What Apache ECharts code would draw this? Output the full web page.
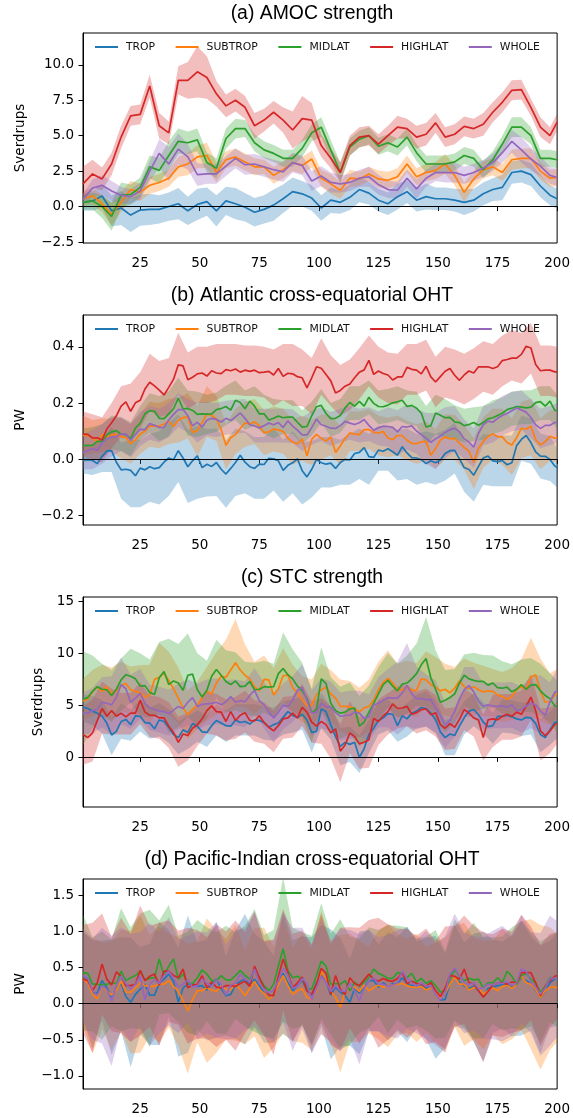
<!DOCTYPE html>
<html><head><meta charset="utf-8">
<script src="https://cdn.jsdelivr.net/npm/echarts@6/dist/echarts.min.js"></script>
<style>html,body{margin:0;padding:0;background:#fff}#c{width:573px;height:1118px}</style>
</head><body><div id="c"></div>
<script>
const years = [1,5,9,13,17,21,25,29,33,37,41,45,49,53,57,61,65,69,73,77,81,85,89,93,97,101,105,109,113,117,121,125,129,133,137,141,145,149,153,157,161,165,169,173,177,181,185,189,193,197,200];
const yearsFine = Array.from({ length: 100 }, (_, i) => 1 + 2 * i).concat([200]);
const seriesNames = ['TROP','SUBTROP','MIDLAT','HIGHLAT','WHOLE'];
const lineColors = ['#1f77b4','#ff7f0e','#2ca02c','#d62728','#9467bd'];
const bandColors = ['rgba(31,119,180,0.3)','rgba(255,127,14,0.3)','rgba(44,160,44,0.3)','rgba(214,39,40,0.3)','rgba(148,103,189,0.3)'];
const panelTitles = ['(a) AMOC strength','(b) Atlantic cross-equatorial OHT','(c) STC strength','(d) Pacific-Indian cross-equatorial OHT'];
const yNames = ['Sverdrups','PW','Sverdrups','PW'];
const yTicks = [[-2.5,0,2.5,5,7.5,10],[-0.2,0,0.2,0.4],[0,5,10,15],[-1,-0.5,0,0.5,1,1.5]];
const yDecimals = [1,1,0,1];
const yRanges = [[-2.57,12.24],[-0.233,0.513],[-4.77,15.42],[-1.18,1.726]];
const xTicks = [25,50,75,100,125,150,175,200];

// (a) AMOC strength, Sverdrups: mean and half-width of spread (4-year steps)
const aTrop  = [0.3,0.4,0.75,-0.3,-0.1,-0.6,-0.25,-0.2,-0.2,0.0,0.2,-0.3,0.15,0.35,-0.3,0.4,0.2,-0.05,-0.4,-0.2,0.1,0.55,1.05,0.9,0.6, -0.1,0.45,0.3,0.65,1.2,0.95,0.45,0.2,0.7,1.05,0.45,0.7,0.55,0.55,0.45,0.3,0.45,0.9,1.2,1.35,2.4,2.5,2.25,1.45,0.8,0.55];
const aSub   = [0.55,0.75,0.2,-0.55,0.3,1.2,1.0,1.5,1.7,2.0,2.8,3.0,3.5,3.6,2.4,3.3,3.5,3.15,2.8,2.8,2.2,2.6,3.1,2.9,3.35, 2.0,1.6,1.15,2.0,1.95,2.3,1.95,1.85,2.1,3.0,2.1,2.4,2.55,3.0,2.2,1.0,1.95,2.6,2.8,2.4,3.3,3.4,3.4,2.5,2.0,2.05];
const aMid   = [0.3,0.4,0.0,-0.7,0.8,0.85,1.35,2.8,2.55,3.6,4.6,4.5,4.7,3.1,2.7,4.8,5.5,5.5,4.5,4.0,3.75,3.4,3.4,4.1,5.2, 5.6,4.0,2.4,4.2,4.75,5.0,4.25,4.5,4.2,4.9,3.8,3.0,3.0,3.0,3.15,3.6,3.4,2.6,3.3,4.4,5.6,5.6,5.0,3.4,3.4,3.3];
const aHigh  = [1.6,2.3,1.95,3.0,4.9,6.4,6.5,8.5,5.7,5.2,8.9,8.9,9.5,9.1,7.95,7.1,7.5,7.0,5.7,6.1,6.65,6.1,5.4,6.2,6.1, 4.3,3.4,2.4,4.3,4.9,5.0,4.4,5.0,5.6,5.5,4.9,5.1,5.9,4.9,5.1,5.65,5.5,5.8,6.65,7.35,8.2,8.25,7.0,5.6,5.0,5.95];
const aWhole = [0.5,1.3,1.5,1.1,0.8,0.7,1.1,2.5,3.75,3.0,4.05,3.5,2.25,2.3,2.3,2.85,3.4,2.95,3.0,2.8,2.6,2.45,3.1,2.9,1.8, 2.15,1.7,1.6,1.7,2.0,2.1,1.55,1.2,1.15,2.0,1.25,2.0,2.4,2.4,2.4,2.2,2.4,2.7,3.1,3.8,4.6,4.0,3.35,2.85,2.2,2.05];
const aTropS  = [0.6,0.7,0.8,1.1,1.2,1.2,1.1,1.1,1.0,1.0,1.1,1.0,1.1,1.0,1.1,1.0,1.1,1.0,1.0,1.0,1.1,1.0,1.0,0.9,0.9, 0.9,0.9,0.8,0.9,0.9,0.8,0.8,0.8,0.9,0.8,0.8,0.9,0.8,0.8,0.8,0.9,0.8,0.8,0.8,0.9,0.8,0.8,0.8,0.8,0.7,0.7];
const aSubS   = [0.5,0.6,0.6,0.8,0.7,0.6,0.6,0.6,0.6,0.6,0.7,0.8,0.8,0.9,0.7,0.6,0.6,0.6,0.6,0.5,0.6,0.6,0.6,0.6,0.6, 0.6,0.7,0.6,0.6,0.5,0.5,0.6,0.6,0.6,0.6,0.6,0.6,0.6,0.7,0.7,0.7,0.6,0.6,0.6,0.6,0.7,0.7,0.7,0.6,0.6,0.6];
const aMidS   = [0.5,0.6,0.8,1.0,0.9,0.7,0.7,0.8,0.9,1.0,0.9,0.8,0.8,0.7,0.7,0.7,0.7,0.6,0.6,0.6,0.6,0.6,0.6,0.6,0.6, 0.7,0.7,0.7,0.6,0.6,0.6,0.6,0.6,0.6,0.6,0.6,0.6,0.6,0.6,0.6,0.6,0.6,0.6,0.6,0.6,0.7,0.7,0.6,0.6,0.6,0.6];
const aHighS  = [1.2,1.0,0.8,0.8,0.8,0.7,0.7,0.8,0.9,0.8,1.0,1.3,1.8,1.5,0.9,0.8,0.8,0.8,0.9,0.8,0.8,0.9,1.3,1.6,1.2, 0.8,0.7,0.7,0.7,0.7,0.7,0.7,0.7,0.8,0.7,0.8,0.8,0.7,0.7,0.7,0.7,0.7,0.8,0.7,0.7,0.7,0.7,0.6,0.7,0.6,0.6];
const aWholeS = [0.4,0.6,0.7,0.7,0.6,0.5,0.6,0.7,1.0,1.2,1.1,0.9,0.8,0.7,0.7,0.7,0.7,0.7,0.7,0.7,0.7,0.7,0.7,0.7,0.7, 0.7,0.7,0.6,0.6,0.6,0.7,0.7,0.6,0.6,0.6,0.7,0.6,0.6,0.7,0.7,0.6,0.6,0.6,0.6,0.7,0.8,0.9,0.8,0.7,0.6,0.6];

// (b) Atlantic cross-equatorial OHT, PW: band centres and half-widths (4-year steps)
const bTrop  = [0.0,-0.005,0.015,0.035,-0.04,-0.05,-0.05,-0.03,-0.03,0.0,0.04,-0.025,-0.01,-0.012,-0.01,-0.052,-0.01,-0.01,-0.03,-0.03,0.0,-0.04,-0.01,-0.05,-0.035, -0.01,-0.01,-0.01,0.0,0.02,0.0,0.04,0.04,0.015,0.02,0.0,0.01,0.0,0.015,0.04,-0.025,-0.05,0.0,-0.005,-0.005,-0.005,0.075,0.065,0.012,0.003,-0.03];
const bSub   = [0.085,0.08,0.085,0.085,0.075,0.055,0.09,0.125,0.12,0.135,0.14,0.155,0.1,0.17,0.145,0.045,0.1,0.125,0.135,0.095,0.108,0.1,0.062,0.075,0.06, 0.08,0.085,0.05,0.1,0.1,0.108,0.085,0.078,0.085,0.067,0.055,0.064,0.038,0.08,0.078,0.043,-0.015,0.06,0.09,0.08,0.045,0.105,0.115,0.055,0.085,0.08];
const bMid   = [0.05,0.055,0.065,0.096,0.09,0.072,0.13,0.165,0.145,0.162,0.22,0.165,0.16,0.16,0.168,0.192,0.21,0.175,0.19,0.16,0.145,0.15,0.15,0.115,0.145, 0.19,0.14,0.155,0.2,0.2,0.22,0.185,0.19,0.2,0.185,0.18,0.12,0.16,0.145,0.132,0.12,0.125,0.13,0.15,0.16,0.18,0.185,0.186,0.2,0.2,0.17];
const bHigh  = [0.09,0.08,0.07,0.12,0.17,0.17,0.21,0.275,0.25,0.26,0.34,0.28,0.3,0.3,0.31,0.32,0.32,0.315,0.315,0.31,0.29,0.31,0.3,0.29,0.26, 0.33,0.28,0.245,0.265,0.305,0.35,0.31,0.29,0.285,0.32,0.32,0.335,0.275,0.31,0.3,0.285,0.305,0.33,0.32,0.35,0.37,0.36,0.395,0.315,0.315,0.31];
const bWhole = [0.025,0.035,0.055,0.08,0.09,0.068,0.108,0.13,0.12,0.14,0.175,0.155,0.13,0.145,0.14,0.148,0.152,0.155,0.12,0.12,0.12,0.12,0.118,0.09,0.112, 0.125,0.108,0.12,0.13,0.12,0.125,0.11,0.115,0.095,0.115,0.1,0.075,0.065,0.095,0.11,0.072,0.04,0.12,0.13,0.155,0.17,0.175,0.145,0.11,0.12,0.13];
const bTropS  = [0.05,0.05,0.06,0.08,0.1,0.12,0.12,0.12,0.13,0.13,0.12,0.13,0.13,0.12,0.12,0.12,0.12,0.11,0.11,0.11,0.11,0.11,0.11,0.11,0.1, 0.09,0.09,0.08,0.09,0.09,0.09,0.08,0.08,0.09,0.09,0.09,0.09,0.09,0.09,0.09,0.09,0.1,0.09,0.09,0.09,0.09,0.08,0.08,0.08,0.08,0.07];
const bSubS   = [0.07,0.06,0.06,0.06,0.07,0.07,0.07,0.08,0.08,0.08,0.08,0.08,0.09,0.09,0.08,0.08,0.08,0.08,0.08,0.08,0.08,0.08,0.08,0.08,0.08, 0.08,0.07,0.07,0.07,0.07,0.07,0.07,0.07,0.07,0.07,0.07,0.07,0.07,0.08,0.08,0.08,0.09,0.09,0.09,0.1,0.1,0.1,0.1,0.09,0.09,0.09];
const bMidS   = [0.06,0.06,0.06,0.06,0.06,0.06,0.06,0.07,0.08,0.08,0.07,0.08,0.08,0.07,0.07,0.07,0.07,0.07,0.07,0.07,0.07,0.06,0.06,0.06,0.06, 0.06,0.06,0.06,0.06,0.06,0.06,0.06,0.06,0.06,0.06,0.06,0.07,0.07,0.07,0.06,0.06,0.06,0.06,0.06,0.06,0.06,0.06,0.06,0.06,0.06,0.06];
const bHighS  = [0.08,0.08,0.08,0.08,0.09,0.1,0.1,0.1,0.1,0.1,0.11,0.1,0.1,0.1,0.1,0.09,0.09,0.09,0.09,0.09,0.1,0.1,0.11,0.1,0.1, 0.1,0.09,0.09,0.09,0.09,0.09,0.09,0.09,0.09,0.09,0.09,0.09,0.09,0.09,0.09,0.09,0.09,0.09,0.09,0.09,0.09,0.09,0.09,0.09,0.09,0.09];
const bWholeS = [0.06,0.07,0.07,0.07,0.06,0.06,0.06,0.06,0.06,0.06,0.06,0.06,0.07,0.06,0.06,0.06,0.06,0.06,0.06,0.06,0.06,0.06,0.06,0.06,0.06, 0.06,0.06,0.06,0.06,0.06,0.06,0.06,0.07,0.08,0.08,0.08,0.09,0.1,0.09,0.08,0.07,0.07,0.07,0.07,0.07,0.07,0.07,0.07,0.07,0.07,0.07];
// (b) mean lines at 2-year steps (yearsFine)
const bTropL  = [-0.002,-0.001,-0.004,-0.015,0.011,0.03,0.031,-0.01,-0.037,-0.035, -0.039,-0.058,-0.031,-0.037,-0.026,-0.033,-0.029,-0.01,0.005,-0.001, 0.031,0.005,-0.026,-0.005,0.013,-0.029,-0.017,-0.025,-0.011,-0.035, -0.052,-0.032,-0.011,0.015,-0.01,-0.026,-0.032,-0.017,-0.018,0.004, 0.002,-0.005,-0.039,-0.021,-0.012,0.002,-0.04,-0.062,-0.035,0.0,
                 -0.012,-0.017,-0.013,-0.032,-0.011,0.0,-0.002,0.021,0.025,0.042, 0.01,0.007,0.033,0.029,0.038,0.027,0.015,0.045,0.023,0.006, 0.005,-0.001,-0.015,-0.005,-0.012,-0.002,0.021,0.031,0.032,0.002, -0.029,-0.036,-0.056,-0.025,0.005,0.012,-0.005,-0.008,-0.004,-0.019, -0.012,0.049,0.071,0.085,0.06,0.027,0.012,0.011,0.0,-0.023, -0.029];
const bSubL   = [0.085,0.086,0.076,0.063,0.088,0.08,0.087,0.089,0.081,0.077, 0.056,0.069,0.09,0.1,0.119,0.118,0.118,0.126,0.136,0.117, 0.139,0.149,0.15,0.096,0.102,0.131,0.162,0.156,0.144,0.106, 0.05,0.077,0.089,0.11,0.13,0.126,0.133,0.119,0.095,0.098, 0.108,0.105,0.099,0.075,0.062,0.055,0.073,0.013,0.071,0.089,
                 0.075,0.065,0.08,0.025,0.048,0.074,0.094,0.09,0.088,0.106, 0.106,0.096,0.094,0.099,0.076,0.07,0.085,0.085,0.068,0.057, 0.056,0.062,0.064,0.015,0.039,0.069,0.08,0.073,0.075,0.058, 0.043,0.029,-0.011,0.04,0.064,0.082,0.09,0.081,0.08,0.06, 0.051,0.077,0.11,0.108,0.118,0.07,0.051,0.063,0.082,0.075, 0.079];
const bMidL   = [0.049,0.05,0.05,0.064,0.064,0.087,0.098,0.102,0.09,0.088, 0.074,0.111,0.129,0.162,0.173,0.171,0.146,0.145,0.162,0.18, 0.218,0.179,0.181,0.174,0.16,0.162,0.161,0.162,0.177,0.181, 0.188,0.175,0.21,0.202,0.18,0.207,0.189,0.162,0.162,0.14, 0.146,0.154,0.148,0.15,0.15,0.132,0.115,0.117,0.155,0.187,
                 0.192,0.163,0.145,0.146,0.156,0.183,0.202,0.189,0.206,0.189, 0.221,0.199,0.188,0.187,0.193,0.201,0.205,0.21,0.188,0.192, 0.182,0.164,0.115,0.12,0.165,0.157,0.148,0.149,0.133,0.131, 0.12,0.124,0.131,0.121,0.131,0.144,0.148,0.156,0.164,0.177, 0.182,0.188,0.186,0.183,0.186,0.202,0.205,0.189,0.207,0.174, 0.174];
const bHighL  = [0.09,0.089,0.076,0.077,0.069,0.108,0.13,0.155,0.189,0.204, 0.171,0.201,0.21,0.25,0.274,0.261,0.246,0.229,0.256,0.285, 0.336,0.332,0.283,0.292,0.304,0.307,0.296,0.315,0.307,0.305, 0.319,0.315,0.321,0.31,0.317,0.313,0.317,0.308,0.31,0.313, 0.3,0.323,0.295,0.306,0.304,0.294,0.29,0.254,0.29,0.329,
                 0.324,0.302,0.279,0.236,0.245,0.26,0.268,0.29,0.31,0.318, 0.352,0.302,0.314,0.305,0.3,0.282,0.293,0.293,0.327,0.32, 0.317,0.304,0.331,0.293,0.275,0.294,0.313,0.323,0.299,0.281, 0.3,0.314,0.307,0.329,0.329,0.329,0.323,0.329,0.351,0.355, 0.36,0.36,0.373,0.402,0.396,0.337,0.315,0.317,0.317,0.311, 0.311];
const bWholeL = [0.025,0.031,0.038,0.032,0.058,0.073,0.08,0.081,0.09,0.09, 0.068,0.088,0.107,0.106,0.127,0.121,0.113,0.114,0.14,0.16, 0.177,0.177,0.155,0.119,0.132,0.115,0.139,0.146,0.142,0.133, 0.146,0.138,0.151,0.165,0.146,0.123,0.119,0.112,0.12,0.129, 0.123,0.131,0.113,0.137,0.118,0.104,0.087,0.087,0.113,0.143,
                 0.123,0.118,0.111,0.11,0.12,0.135,0.129,0.124,0.13,0.142, 0.121,0.104,0.112,0.118,0.117,0.114,0.098,0.117,0.115,0.119, 0.101,0.088,0.075,0.061,0.073,0.083,0.096,0.105,0.111,0.098, 0.073,0.062,0.043,0.093,0.123,0.136,0.132,0.146,0.156,0.163, 0.173,0.183,0.176,0.168,0.149,0.123,0.11,0.121,0.121,0.131, 0.132];

// (c) STC strength, Sverdrups: band centres and half-widths (4-year steps)
const cTrop  = [4.75,4.5,3.9,2.0,3.5,3.1,4.0,3.3,3.6,3.0,1.9,2.4,3.0,2.5,3.6,3.0,3.6,3.6,3.6,3.3,3.2,3.8,4.0,4.25,2.2, 4.5,3.3,1.05,1.25,0.3,2.0,3.8,4.1,3.0,3.6,4.4,4.65,3.9,1.9,2.0,3.8,4.6,3.8,2.8,4.0,3.9,3.65,3.8,2.1,2.8,3.45];
const cSub   = [5.55,6.2,6.6,6.15,6.8,6.45,6.35,6.1,7.8,7.15,5.95,4.1,5.0,6.1,7.1,7.8,9.1,7.85,6.7,7.4,6.3,8.0,6.5,5.6,5.3, 6.6,6.0,5.0,4.75,4.3,5.0,6.5,7.5,6.4,6.7,6.45,7.5,7.05,6.5,6.2,7.0,6.6,6.4,6.2,5.8,6.1,6.65,7.7,6.5,5.6,6.2];
const cMid   = [5.7,6.3,6.5,5.9,7.0,7.85,7.0,6.6,7.6,6.9,6.9,7.9,6.5,6.5,8.5,7.3,7.3,6.7,6.5,6.8,6.4,8.5,7.4,6.5,4.0, 7.6,5.1,4.3,4.7,3.5,4.4,6.1,7.4,6.4,7.0,7.95,9.2,6.8,5.4,5.9,7.4,7.25,7.25,7.3,6.75,6.45,6.9,6.95,6.5,5.7,4.9];
const cHigh  = [2.1,2.6,4.8,4.4,4.2,4.2,5.2,3.95,3.8,3.1,1.5,2.0,3.1,4.3,4.1,3.6,3.8,4.4,3.5,3.3,2.5,3.8,3.9,5.05,3.4, 3.5,2.4,0.4,2.9,1.4,1.5,3.4,4.2,4.8,5.0,4.3,4.6,4.0,2.7,2.8,4.6,4.0,1.9,3.5,3.9,3.9,4.2,5.8,2.2,2.6,3.3];
const cWhole = [4.25,4.5,5.3,5.0,6.4,5.35,6.1,4.8,4.6,4.3,4.9,5.3,4.9,5.3,5.4,5.25,5.3,5.1,6.4,5.0,3.8,4.9,5.6,6.75,4.25, 5.2,4.9,3.95,4.1,4.2,3.85,5.3,5.7,5.7,7.0,5.7,5.5,4.9,3.1,4.2,6.3,6.3,4.9,5.0,5.0,5.05,4.6,5.3,5.1,4.7,6.35];
const cTropS  = [1.3,1.4,1.6,1.8,1.7,1.5,1.5,1.5,1.6,1.6,1.6,1.6,1.5,1.5,1.5,1.5,1.5,1.5,1.5,1.6,1.6,1.6,1.6,1.6,1.7, 1.7,1.6,1.8,1.7,1.8,1.6,1.6,1.5,1.5,1.6,1.6,1.7,1.6,1.7,1.8,1.6,1.6,1.5,1.5,1.6,1.6,1.6,1.6,1.6,1.6,1.6];
const cSubS   = [2.0,2.2,2.3,2.5,2.4,2.3,2.5,2.8,3.2,3.0,2.7,2.3,2.3,2.6,3.0,3.5,4.2,3.0,2.5,2.4,2.3,2.5,2.4,2.2,2.2, 2.4,2.4,2.5,2.6,2.4,2.5,2.7,2.8,2.6,2.6,2.6,2.7,2.6,2.5,2.5,2.5,2.5,2.4,2.3,2.4,2.5,2.8,3.8,3.0,2.5,2.3];
const cMidS   = [4.5,3.5,2.5,2.5,2.5,2.6,3.0,2.8,3.5,4.5,4.0,4.0,3.5,2.8,2.8,3.0,2.8,2.5,2.6,2.5,2.6,3.5,3.0,2.6,2.6, 3.0,2.6,2.5,2.5,2.4,2.5,2.6,2.6,2.6,2.8,3.0,4.3,3.5,3.0,2.6,2.5,2.8,2.6,2.5,2.5,2.5,2.5,2.6,2.5,2.4,2.5];
const cHighS  = [2.8,3.0,2.5,2.2,2.0,2.0,2.0,2.0,2.0,2.2,2.4,2.3,2.0,2.0,2.0,2.0,2.0,2.0,2.0,2.0,2.0,2.0,2.0,2.0,2.0, 2.2,2.5,2.8,2.5,2.5,2.5,2.2,2.0,2.0,2.0,2.0,2.0,2.0,2.0,2.0,2.0,2.0,2.2,2.5,2.2,2.2,2.2,2.2,2.5,2.2,2.0];
const cWholeS = [2.0,2.2,2.4,2.8,3.2,2.6,2.4,2.2,2.2,2.2,2.2,2.2,2.2,2.2,2.2,2.2,2.2,2.2,2.2,2.2,2.4,2.2,2.2,2.2,2.2, 2.4,2.4,2.3,2.3,2.2,2.2,2.4,2.8,3.5,4.0,3.0,2.5,2.5,2.2,2.2,2.4,2.4,2.2,2.2,2.2,2.2,2.2,2.5,2.8,2.5,2.2];
// (c) mean lines at 2-year steps (yearsFine)
const cTropL  = [4.85,4.7,4.45,4.25,3.95,3.3,2.15,2.5,3.45,3.65, 3.15,4.0,3.95,3.35,3.3,2.75,3.6,3.45,2.9,2.2, 1.9,2.65,2.4,3.25,3.0,2.45,2.4,3.05,3.55,3.3, 3.05,3.0,3.6,3.35,3.45,3.2,3.6,3.55,3.35,2.9, 3.15,3.3,3.85,4.4,4.05,3.8,4.15,3.6,2.4,2.5,
                 4.65,4.4,3.15,2.0,1.05,1.45,1.25,1.45,0.0,0.85, 2.2,2.8,3.55,3.8,4.2,4.15,3.05,4.0,3.7,4.25, 4.45,4.8,4.7,4.25,3.65,2.45,1.9,2.25,2.1,3.0, 3.8,4.45,4.6,4.1,3.4,2.95,3.05,3.95,3.95,4.05, 3.9,3.7,3.6,3.85,3.8,3.25,2.2,1.9,2.65,3.35, 3.45];
const cSubL   = [5.4,5.6,6.3,6.8,6.35,6.8,6.1,6.4,6.9,7.1, 6.5,6.35,6.2,5.8,6.0,7.5,7.7,8.1,7.4,6.6, 5.7,4.75,4.1,4.6,5.05,5.75,6.35,6.1,7.15,7.8, 7.7,8.4,9.1,8.4,7.9,7.55,6.8,6.4,7.5,7.45, 6.0,6.6,7.85,7.9,6.7,6.2,5.55,4.95,5.05,6.0,
                 6.5,6.75,6.1,5.7,4.9,4.9,4.85,4.7,4.35,4.75, 4.9,5.5,6.5,7.2,7.6,7.15,6.5,6.5,6.8,6.45, 6.45,7.55,7.45,7.0,6.75,6.4,6.55,6.2,6.65,7.35, 6.8,6.6,6.8,6.5,6.3,6.4,6.35,6.0,5.85,5.6, 5.85,6.5,6.8,6.55,7.7,7.95,6.35,5.3,5.35,6.0, 6.2];
const cMidL   = [5.6,5.75,6.35,6.8,6.55,6.5,5.95,6.55,7.45,7.95, 7.8,7.55,6.85,6.9,6.25,6.05,7.65,8.25,7.0,7.35, 7.15,6.45,7.9,8.0,6.5,5.8,6.45,7.8,8.45,7.9, 7.3,7.0,7.35,6.8,6.85,7.3,6.5,6.55,6.8,6.75, 6.8,8.05,8.55,7.95,7.55,6.85,6.4,5.65,4.3,4.6,
                 7.55,7.1,5.2,4.5,4.25,4.35,4.65,4.75,3.0,3.4, 4.35,5.2,6.1,7.0,7.4,6.85,6.4,7.05,7.15,7.55, 8.05,8.9,9.5,7.65,6.55,5.3,5.5,5.75,6.1,7.15, 7.9,7.55,7.4,7.3,7.3,6.95,7.15,6.7,6.65,6.75, 6.3,6.55,7.0,6.55,6.95,7.0,6.4,5.95,5.65,4.95, 4.9];
const cHighL  = [2.2,1.9,2.35,3.55,4.7,3.95,4.5,3.95,4.25,3.9, 4.25,4.25,5.5,4.35,4.05,4.05,3.8,3.8,3.0,2.4, 1.45,2.25,2.1,2.8,3.15,3.7,4.5,4.95,4.4,4.35, 3.45,4.4,3.55,4.05,4.3,3.55,3.5,4.0,3.35,2.9, 2.55,3.05,3.7,3.8,4.25,3.8,4.8,4.35,3.4,3.0,
                 3.45,3.15,2.35,2.75,0.6,1.2,2.35,2.0,1.3,1.45, 1.7,3.75,3.45,4.0,4.4,5.15,4.7,4.75,4.9,4.15, 4.3,4.6,4.65,4.1,4.3,3.15,2.8,3.25,2.9,3.65, 4.6,4.25,3.8,3.6,1.9,3.6,3.7,3.6,3.95,4.15, 3.95,4.35,4.15,4.9,5.8,4.5,2.55,2.1,2.55,3.15, 3.3];
const cWholeL = [4.25,4.25,4.5,4.6,5.3,5.2,5.05,5.75,7.0,6.6, 5.3,5.7,6.15,5.2,4.75,4.6,4.45,4.4,4.2,4.55, 4.9,4.7,5.3,5.75,4.9,5.1,5.15,5.2,5.3,5.05, 5.35,5.85,5.3,5.45,5.35,5.95,6.45,5.45,5.05,4.35, 3.8,4.35,5.0,4.9,5.5,6.45,6.75,5.5,4.25,4.35,
                 5.2,4.85,4.85,4.3,3.95,4.05,4.05,4.35,4.25,3.75, 3.9,5.05,5.2,5.5,5.75,5.7,5.7,6.2,6.9,6.1, 5.65,5.65,5.55,5.55,4.75,4.0,3.1,3.55,4.4,5.6, 6.5,6.9,6.3,5.4,4.9,5.05,4.95,4.9,4.95,4.8, 5.05,4.5,4.6,4.95,5.2,5.05,4.45,4.05,5.35,6.25, 6.35];

// (d) Pacific-Indian cross-equatorial OHT, PW: band centres and half-widths (4-year steps)
const dTrop  = [0.39,0.13,0.32,0.09,0.27,0.02,0.18,0.13,0.28,0.42,0.02,0.27,0.25,0.19,0.33,0.11,0.27,0.34,0.32,0.16,0.06,0.43,0.18,0.33,0.12, 0.39,0.13,0.16,0.02,0.15,0.32,0.22,0.24,0.27,0.27,0.26,0.21,0.09,0.04,0.39,0.25,0.22,0.1,0.24,0.26,0.25,0.36,0.28,0.06,0.27,0.34];
const dSub   = [0.34,0.11,0.25,0.11,0.32,0.16,0.27,0.25,0.27,0.32,0.17,-0.07,0.17,0.18,0.17,0.2,0.29,0.09,0.3,0.15,0.09,0.39,0.13,0.21,0.06, 0.43,0.16,0.0,0.22,0.17,0.19,0.26,0.25,0.27,0.25,0.22,0.19,0.15,0.12,0.38,0.27,0.21,0.12,0.22,0.24,0.21,0.39,0.27,0.09,0.21,0.22];
const dMid   = [0.43,0.27,0.25,0.29,0.47,0.36,0.45,0.35,0.5,0.62,0.34,0.3,0.36,0.41,0.29,0.33,0.39,0.38,0.46,0.25,0.27,0.75,0.35,0.34,0.19, 0.59,0.27,0.27,0.18,0.25,0.36,0.42,0.34,0.43,0.36,0.3,0.28,0.27,0.13,0.47,0.32,0.32,0.22,0.32,0.28,0.36,0.39,0.34,0.16,0.34,0.34];
const dHigh  = [0.34,0.22,0.55,0.27,0.39,0.22,0.46,0.38,0.27,0.45,0.36,0.25,0.27,0.22,0.25,0.25,0.25,0.29,0.52,0.22,0.09,0.61,0.22,0.36,0.12, 0.49,0.13,0.2,0.36,0.25,0.41,0.29,0.3,0.34,0.28,0.29,0.24,0.17,0.22,0.38,0.47,0.28,0.09,0.26,0.29,0.3,0.43,0.42,0.11,0.32,0.39];
const dWhole = [0.39,0.2,0.25,0.04,0.36,0.22,0.34,0.27,0.29,0.45,0.24,0.34,0.25,0.29,0.33,0.16,0.27,0.34,0.48,0.2,0.18,0.5,0.2,0.35,0.06, 0.38,0.17,0.19,0.27,0.06,0.32,0.27,0.25,0.27,0.35,0.24,0.26,0.13,0.13,0.5,0.29,0.28,0.22,0.26,0.28,0.25,0.48,0.29,0.13,0.32,0.34];
const dTropS  = [0.6,0.75,0.55,0.8,0.65,0.9,0.6,0.7,0.85,0.6,0.75,0.95,0.6,0.7,0.8,0.55,0.75,0.9,0.65,0.7,0.6,0.85,0.7,0.6,0.8, 0.7,0.9,0.75,0.6,0.85,0.7,0.6,0.75,0.65,0.8,0.6,0.7,0.85,0.65,0.7,0.6,0.75,0.9,0.65,0.6,0.7,0.8,0.65,0.75,0.6,0.65];
const dSubS   = [0.65,0.8,0.6,0.75,0.7,0.85,0.95,0.7,0.8,0.65,0.75,0.9,0.7,1.0,0.85,0.7,0.8,0.65,0.75,0.9,0.7,0.8,0.65,0.75,0.7, 0.85,0.7,0.95,0.75,0.7,0.6,0.75,0.85,0.7,0.65,0.75,0.6,0.7,0.8,0.7,0.85,0.7,0.75,0.65,0.8,0.7,0.75,0.9,1.0,0.85,0.75];
const dMidS   = [0.8,0.65,0.75,0.6,0.85,0.7,0.8,0.95,0.65,0.75,0.6,0.7,0.8,0.65,0.7,0.75,0.6,0.7,0.85,0.7,0.75,1.0,0.7,0.65,0.75, 0.8,0.7,0.9,0.75,0.65,0.7,0.6,0.75,0.65,0.7,0.6,0.65,0.75,0.6,0.7,0.65,0.8,0.7,0.6,0.65,0.7,0.75,0.65,0.7,0.6,0.65];
const dHighS  = [0.75,0.9,0.7,0.65,0.8,0.75,0.9,0.7,0.85,0.7,0.65,0.8,0.75,0.7,0.85,0.75,0.9,0.7,0.75,0.65,0.8,0.7,0.75,0.65,0.7, 0.75,0.7,0.85,0.7,0.8,0.75,0.9,0.8,0.7,0.75,0.65,0.8,0.7,0.85,0.7,0.75,0.8,0.9,0.7,0.75,0.7,0.8,0.65,0.7,0.65,0.6];
const dWholeS = [0.65,0.7,0.8,0.9,0.7,0.75,0.65,0.85,0.7,0.75,0.65,0.6,0.75,0.7,0.8,0.65,0.75,0.7,0.8,0.65,0.7,0.75,0.85,0.7,0.75, 0.8,0.7,0.85,0.75,0.9,0.7,0.65,0.7,0.75,0.7,0.65,0.75,0.7,0.8,0.75,0.7,0.65,0.7,0.75,0.8,0.7,0.75,0.7,0.85,0.9,0.8];
// (d) mean lines at 2-year steps (yearsFine)
const dTropL  = [0.39,0.34,0.15,0.15,0.32,0.22,0.09,0.22,0.28,0.1, 0.02,0.13,0.2,0.27,0.12,0.12,0.28,0.34,0.41,0.31, 0.02,0.22,0.27,0.27,0.24,0.25,0.19,0.27,0.34,0.21, 0.11,0.13,0.26,0.31,0.34,0.26,0.34,0.25,0.15,0.06, 0.13,0.32,0.42,0.29,0.18,0.25,0.33,0.18,0.12,0.29,
                 0.39,0.31,0.12,0.23,0.16,0.11,0.02,0.21,0.15,0.23, 0.32,0.32,0.23,0.29,0.24,0.28,0.28,0.36,0.28,0.25, 0.25,0.26,0.21,0.25,0.16,0.05,0.06,0.28,0.38,0.3, 0.25,0.21,0.24,0.18,0.1,0.21,0.23,0.25,0.26,0.27, 0.24,0.27,0.36,0.32,0.28,0.19,0.09,0.17,0.29,0.34, 0.34];
const dSubL   = [0.34,0.29,0.13,0.07,0.25,0.18,0.12,0.19,0.31,0.16, 0.16,0.22,0.29,0.25,0.24,0.24,0.27,0.27,0.32,0.24, 0.17,0.04,-0.1,0.06,0.18,0.18,0.22,0.19,0.17,0.25, 0.2,0.19,0.28,0.2,0.11,0.21,0.31,0.2,0.14,0.06, 0.12,0.26,0.39,0.25,0.13,0.18,0.21,0.09,0.06,0.18,
                 0.45,0.34,0.17,0.09,-0.05,0.17,0.22,0.23,0.17,0.26, 0.18,0.22,0.26,0.23,0.25,0.26,0.27,0.28,0.25,0.23, 0.23,0.24,0.19,0.22,0.17,0.07,0.14,0.27,0.37,0.27, 0.27,0.19,0.22,0.23,0.13,0.18,0.22,0.18,0.24,0.26, 0.21,0.27,0.38,0.29,0.27,0.2,0.09,0.18,0.23,0.23, 0.22];
const dMidL   = [0.43,0.42,0.27,0.27,0.26,0.27,0.29,0.28,0.45,0.32, 0.36,0.39,0.45,0.33,0.35,0.36,0.62,0.39,0.52,0.62, 0.34,0.41,0.29,0.28,0.36,0.47,0.41,0.32,0.32,0.39, 0.33,0.33,0.39,0.46,0.39,0.34,0.47,0.36,0.25,0.18, 0.27,0.52,0.76,0.46,0.36,0.38,0.34,0.22,0.2,0.39,
                 0.59,0.52,0.27,0.28,0.27,0.32,0.18,0.3,0.24,0.3, 0.36,0.48,0.42,0.39,0.35,0.35,0.43,0.42,0.36,0.42, 0.3,0.35,0.28,0.32,0.25,0.16,0.18,0.35,0.47,0.38, 0.32,0.35,0.33,0.34,0.22,0.29,0.29,0.36,0.29,0.45, 0.38,0.27,0.39,0.42,0.34,0.28,0.16,0.24,0.36,0.35, 0.34];
const dHighL  = [0.34,0.32,0.18,0.29,0.55,0.34,0.26,0.44,0.38,0.25, 0.25,0.27,0.46,0.32,0.38,0.41,0.26,0.45,0.45,0.39, 0.36,0.48,0.22,0.26,0.27,0.39,0.22,0.3,0.23,0.22, 0.25,0.25,0.24,0.28,0.31,0.24,0.52,0.36,0.22,0.12, 0.11,0.38,0.62,0.43,0.22,0.29,0.37,0.18,0.13,0.27,
                 0.49,0.42,0.13,0.39,0.2,0.13,0.36,0.28,0.25,0.33, 0.41,0.34,0.31,0.35,0.32,0.31,0.35,0.43,0.28,0.31, 0.28,0.27,0.24,0.29,0.18,0.1,0.22,0.39,0.38,0.34, 0.48,0.29,0.28,0.18,0.09,0.17,0.26,0.29,0.29,0.27, 0.3,0.29,0.43,0.43,0.43,0.29,0.11,0.24,0.32,0.38, 0.39];
const dWholeL = [0.39,0.35,0.18,0.12,0.25,0.2,0.03,0.26,0.38,0.28, 0.2,0.27,0.38,0.05,0.27,0.33,0.28,0.39,0.45,0.35, 0.23,0.27,0.33,0.23,0.25,0.34,0.28,0.24,0.33,0.27, 0.12,0.26,0.28,0.41,0.34,0.31,0.48,0.28,0.2,0.15, 0.19,0.32,0.49,0.39,0.21,0.24,0.35,0.28,0.05,0.21,
                 0.38,0.3,0.17,0.25,0.18,0.17,0.28,0.18,0.04,0.21, 0.32,0.36,0.27,0.27,0.24,0.26,0.29,0.45,0.35,0.29, 0.24,0.29,0.24,0.25,0.13,0.05,0.15,0.41,0.49,0.39, 0.29,0.26,0.29,0.21,0.22,0.27,0.26,0.29,0.28,0.31, 0.25,0.29,0.48,0.45,0.3,0.23,0.13,0.22,0.35,0.35, 0.34];

const panelBandCentres = [[aTrop,aSub,aMid,aHigh,aWhole],[bTrop,bSub,bMid,bHigh,bWhole],[cTrop,cSub,cMid,cHigh,cWhole],[dTrop,dSub,dMid,dHigh,dWhole]];
const panelSpreads = [[aTropS,aSubS,aMidS,aHighS,aWholeS],[bTropS,bSubS,bMidS,bHighS,bWholeS],[cTropS,cSubS,cMidS,cHighS,cWholeS],[dTropS,dSubS,dMidS,dHighS,dWholeS]];
const panelLines = [[aTrop,aSub,aMid,aHigh,aWhole],[bTropL,bSubL,bMidL,bHighL,bWholeL],[cTropL,cSubL,cMidL,cHighL,cWholeL],[dTropL,dSubL,dMidL,dHighL,dWholeL]];
const panelLineYears = [years, yearsFine, yearsFine, yearsFine];

const FONT = 'DejaVu Sans';
const TITLE_FONT = 'Liberation Sans';
const gridTops = [33, 315, 597, 879];
const gridLeft = 83, gridWidth = 475, gridHeight = 210;
const nameGaps = [56, 56, 38, 56];

function fmt(v, d){ return (v < 0 ? '\u2212' : '') + Math.abs(v).toFixed(d); }

const option = {
  animation: false,
  backgroundColor: '#fff',
  textStyle: { fontFamily: FONT },
  title: [], legend: [], grid: [], xAxis: [], yAxis: [], series: []
};

for (let p = 0; p < 4; p++) {
  const top = gridTops[p];
  option.title.push({
    text: panelTitles[p], left: 312, top: top - 30, textAlign: 'center', padding: 0,
    textStyle: { fontFamily: TITLE_FONT, fontSize: 19.4, fontWeight: 'normal', color: '#000', lineHeight: 22 }
  });
  option.legend.push({
    data: seriesNames, left: 95, top: top + 7, padding: 0, icon: 'rect', itemWidth: 23, itemHeight: 2, itemGap: 20.5,
    selectedMode: false,
    textStyle: { fontFamily: FONT, fontSize: 10.8, color: '#111', padding: [0, 0, 0, 3], lineHeight: 14 }
  });
  option.grid.push({ left: gridLeft, top: top, width: gridWidth, height: gridHeight, show: true, borderColor: '#000', borderWidth: 1, backgroundColor: 'transparent' });
  option.xAxis.push({
    type: 'value', gridIndex: p, min: 1, max: 200,
    axisLine: { show: true, lineStyle: { color: '#000', width: 1 } },
    axisTick: { show: true, customValues: xTicks, length: 4.5, lineStyle: { color: '#000', width: 1 } },
    axisLabel: { customValues: xTicks, fontFamily: FONT, fontSize: 13.5, color: '#000', margin: 13 },
    splitLine: { show: false }
  });
  const dec = yDecimals[p];
  option.yAxis.push({
    type: 'value', gridIndex: p, min: yRanges[p][0], max: yRanges[p][1],
    name: yNames[p], nameLocation: 'middle', nameGap: nameGaps[p],
    nameTextStyle: { fontFamily: FONT, fontSize: 13.5, color: '#000' },
    axisLine: { show: true, lineStyle: { color: '#000', width: 1 } },
    axisTick: { show: true, customValues: yTicks[p], length: 4.5, lineStyle: { color: '#000', width: 1 } },
    axisLabel: { customValues: yTicks[p], fontFamily: FONT, fontSize: 13.5, color: '#000', margin: 9, formatter: v => fmt(v, dec) },
    splitLine: { show: false }
  });
  // shaded spread bands
  for (let s = 0; s < 5; s++) {
    const mean = panelBandCentres[p][s], spr = panelSpreads[p][s];
    option.series.push({
      type: 'custom', xAxisIndex: p, yAxisIndex: p, silent: true, clip: true, z: 1,
      data: [[years[0], mean[0]]],
      renderItem: function (params, api) {
        const pts = [];
        for (let i = 0; i < years.length; i++) pts.push(api.coord([years[i], mean[i] + spr[i]]));
        for (let i = years.length - 1; i >= 0; i--) pts.push(api.coord([years[i], mean[i] - spr[i]]));
        return { type: 'polygon', shape: { points: pts }, style: { fill: bandColors[s] } };
      }
    });
  }
  // mean lines
  const xs = panelLineYears[p];
  for (let s = 0; s < 5; s++) {
    const vals = panelLines[p][s];
    const ser = {
      type: 'line', name: seriesNames[s], xAxisIndex: p, yAxisIndex: p,
      data: xs.map((x, i) => [x, vals[i]]),
      symbol: 'none', showSymbol: false, z: 3 + s * 0.01,
      lineStyle: { width: 1.7, color: lineColors[s] }, itemStyle: { color: lineColors[s] },
      emphasis: { disabled: true }
    };
    if (s === 4) {
      ser.markLine = { silent: true, symbol: ['none', 'none'], label: { show: false },
        lineStyle: { color: '#000', width: 1, type: 'solid' }, data: [{ yAxis: 0 }] };
    }
    option.series.push(ser);
  }
}

const chart = echarts.init(document.getElementById('c'), null, { renderer: 'canvas' });
chart.setOption(option);
</script>
</body></html>
